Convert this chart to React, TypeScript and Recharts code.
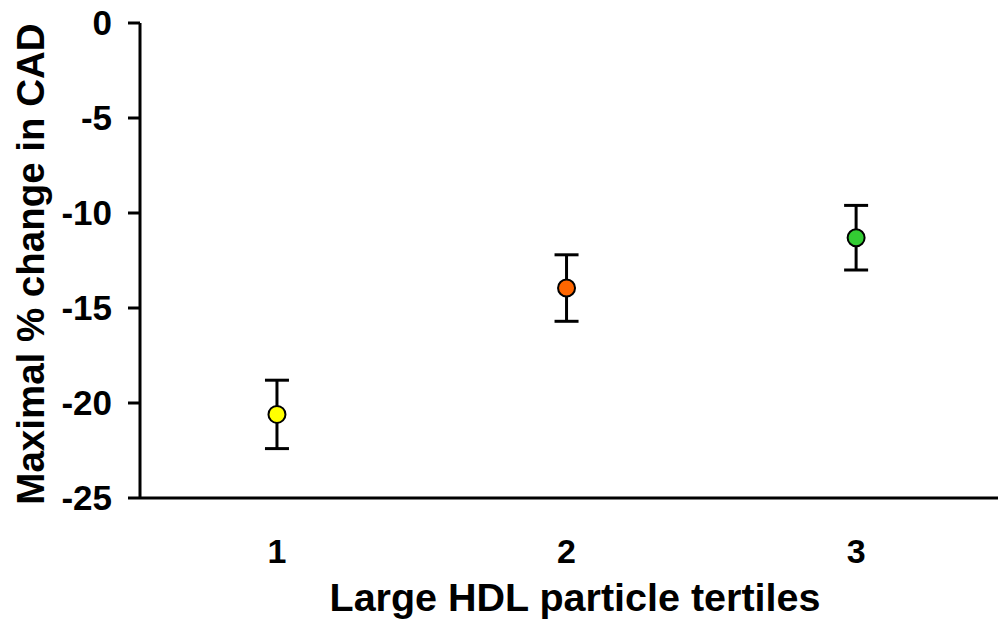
import {
  ScatterChart,
  Scatter,
  XAxis,
  YAxis,
  ErrorBar,
  Cell,
  Label,
} from "recharts";

const tertiles = [1, 2, 3];
const meanChange = [-20.6, -13.95, -11.3];
const errorSize = [1.8, 1.75, 1.7];
const pointColors = ["#FFFF00", "#FF6600", "#33CC33"];
const yTicks = [0, -5, -10, -15, -20, -25];

const data = tertiles.map((t, i) => ({
  tertile: t,
  change: meanChange[i],
  err: errorSize[i],
}));

const FONT = "'Liberation Sans', Arial, sans-serif";

const Dot = (props: any) => (
  <circle
    cx={props.cx}
    cy={props.cy}
    r={8.5}
    fill={props.fill}
    stroke="#000"
    strokeWidth={2}
  />
);

export default function App() {
  return (
    <div style={{ position: "absolute", left: 0, top: 0, background: "#fff" }}>
      <ScatterChart
        width={998}
        height={627}
        margin={{ top: 23, right: 0, left: 0, bottom: 0 }}
      >
        <XAxis
          type="number"
          dataKey="tertile"
          domain={[0.527, 3.49]}
          ticks={tertiles}
          allowDataOverflow
          height={129}
          tickLine={false}
          tickSize={0}
          tickMargin={41}
          axisLine={{ stroke: "#000", strokeWidth: 3 }}
          tick={{ fill: "#000", fontSize: 34, fontWeight: "bold", fontFamily: FONT }}
        >
          <Label
            content={() => (
              <text
                x={575}
                y={611}
                textAnchor="middle"
                fill="#000"
                fontSize={39.5}
                fontWeight="bold"
                fontFamily={FONT}
              >
                Large HDL particle tertiles
              </text>
            )}
          />
        </XAxis>
        <YAxis
          type="number"
          dataKey="change"
          domain={[-25, 0]}
          ticks={yTicks}
          width={140}
          tickSize={12}
          tickMargin={16}
          axisLine={{ stroke: "#000", strokeWidth: 3 }}
          tickLine={{ stroke: "#000", strokeWidth: 3 }}
          tick={{ fill: "#000", fontSize: 35, fontWeight: "bold", fontFamily: FONT }}
        >
          <Label
            content={() => (
              <text
                x={44}
                y={264}
                transform="rotate(-90 44 264)"
                textAnchor="middle"
                fill="#000"
                fontSize={38.5}
                fontWeight="bold"
                fontFamily={FONT}
              >
                Maximal % change in CAD
              </text>
            )}
          />
        </YAxis>
        <Scatter data={data} shape={<Dot />} isAnimationActive={false}>
          <ErrorBar
            dataKey="err"
            direction="y"
            width={12}
            stroke="#000"
            strokeWidth={3}
            isAnimationActive={false}
          />
          {data.map((d, i) => (
            <Cell key={d.tertile} fill={pointColors[i]} />
          ))}
        </Scatter>
      </ScatterChart>
    </div>
  );
}
